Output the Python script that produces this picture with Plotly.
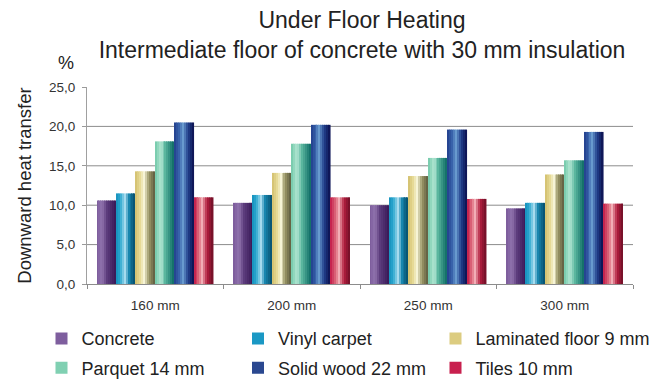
import plotly.graph_objects as go

# Data: downward heat transfer (%) by screed thickness and floor covering
categories = ["160 mm", "200 mm", "250 mm", "300 mm"]
series_names = [
    "Concrete",
    "Vinyl carpet",
    "Laminated floor 9 mm",
    "Parquet 14 mm",
    "Solid wood 22 mm",
    "Tiles 10 mm",
]
concrete = [10.6, 10.3, 10.0, 9.6]
vinyl_carpet = [11.5, 11.3, 11.0, 10.3]
laminated_floor = [14.3, 14.1, 13.7, 13.9]
parquet = [18.1, 17.8, 16.0, 15.7]
solid_wood = [20.5, 20.2, 19.6, 19.3]
tiles = [11.0, 11.0, 10.8, 10.2]
series_values = [concrete, vinyl_carpet, laminated_floor, parquet, solid_wood, tiles]
grid_values = [5, 10, 15, 20]

# Cylinder-like shading for each series: (position across bar, colour)
shading = [
    [(0.0, "#7a5a9a"), (0.3, "#9073ad"), (0.55, "#5c3c7c"), (1.0, "#381856")],
    [(0.0, "#1690bc"), (0.2, "#28a6ce"), (0.45, "#a6dbee"), (0.65, "#1886ae"), (1.0, "#074e6c")],
    [(0.0, "#d2be6c"), (0.25, "#e6da96"), (0.45, "#f6f4d6"), (0.7, "#9a9666"), (1.0, "#5c5a3e")],
    [(0.0, "#70c8a8"), (0.3, "#b2e6d2"), (0.55, "#5ab69e"), (1.0, "#0c6a64")],
    [(0.0, "#223e8c"), (0.25, "#3862aa"), (0.45, "#689ace"), (0.7, "#22408c"), (1.0, "#0b0f4e")],
    [(0.0, "#c21646"), (0.3, "#de6e7e"), (0.45, "#f2aeb6"), (0.7, "#b21e3e"), (1.0, "#6e0e26")],
]
legend_colors = ["#7e5e9e", "#1a98c4", "#dccc80", "#80d0b2", "#2a4890", "#c8204e"]
# legend column for each series (three columns, two rows)
legend_ids = ["legend", "legend2", "legend3", "legend", "legend2", "legend3"]


def hex_to_rgb(h):
    h = h.lstrip("#")
    return tuple(int(h[i:i + 2], 16) for i in (0, 2, 4))


def shade_at(stops, t):
    for (t0, c0), (t1, c1) in zip(stops[:-1], stops[1:]):
        if t <= t1:
            f = 0 if t1 == t0 else (t - t0) / (t1 - t0)
            a, b = hex_to_rgb(c0), hex_to_rgb(c1)
            r, g, bl = (round(a[k] + (b[k] - a[k]) * f) for k in range(3))
            return f"rgb({r},{g},{bl})"
    return stops[-1][1]


group_width = 0.853
bar_width = group_width / len(series_names)
strips = 10
strip_width = bar_width / strips

fig = go.Figure()
for i, (name, values, stops) in enumerate(zip(series_names, series_values, shading)):
    left = -group_width / 2 + i * bar_width
    for j in range(strips):
        t = (j + 0.5) / strips
        fig.add_trace(go.Bar(
            x=categories,
            y=values,
            name=name,
            legendgroup=name,
            showlegend=False,
            width=strip_width,
            offset=left + j * strip_width,
            marker=dict(color=shade_at(stops, t), line=dict(width=0)),
            hovertemplate=name + "<br>%{x}: %{y:.1f} %<extra></extra>",
        ))
    # legend entry for the series
    fig.add_trace(go.Bar(
        x=[None], y=[None], name=name, legendgroup=name, showlegend=True,
        legend=legend_ids[i],
        marker=dict(color=legend_colors[i], line=dict(width=0)),
    ))

font_family = "Liberation Sans, Arial, Helvetica, sans-serif"
text_color = "#222222"
grid_color = "#8c8c8c"

legend_style = dict(
    orientation="v",
    xanchor="left",
    y=-0.184,
    yanchor="top",
    font=dict(size=18, color=text_color),
    tracegroupgap=3,
    itemwidth=30,
    bgcolor="rgba(0,0,0,0)",
)

fig.update_layout(
    width=669,
    height=380,
    margin=dict(l=87, r=36, t=87, b=96, autoexpand=False),
    paper_bgcolor="white",
    plot_bgcolor="white",
    barmode="overlay",
    separators=",.",
    font=dict(family=font_family, color=text_color),
    title=dict(
        text="Under Floor Heating<br>Intermediate floor of concrete with 30 mm insulation",
        x=362 / 669,
        xanchor="center",
        xref="container",
        y=0.927,
        yref="container",
        yanchor="top",
        font=dict(size=23, color=text_color, family=font_family),
    ),
    xaxis=dict(
        type="category",
        tickson="boundaries",
        ticks="outside",
        ticklen=4,
        tickcolor=grid_color,
        showline=True,
        linecolor=grid_color,
        linewidth=1,
        showgrid=False,
        ticklabelstandoff=9,
        tickfont=dict(size=13.5, color="#333333"),
    ),
    yaxis=dict(
        range=[0, 25],
        dtick=5,
        tickformat=".1f",
        ticks="outside",
        ticklen=4,
        tickcolor="#9a9a9a",
        showline=True,
        linecolor="#a0a0a0",
        linewidth=1,
        showgrid=False,
        zeroline=False,
        ticklabelstandoff=4,
        tickfont=dict(size=13.5, color="#333333"),
        title=dict(text="Downward heat transfer", font=dict(size=18.5, color=text_color), standoff=12),
    ),
    legend=dict(x=(41.5 - 87) / 546, **legend_style),
    legend2=dict(x=(238 - 87) / 546, **legend_style),
    legend3=dict(x=(435.5 - 87) / 546, **legend_style),
    shapes=[
        dict(
            type="line", xref="paper", yref="y", layer="below",
            x0=0, x1=1, y0=v, y1=v,
            line=dict(color=grid_color, width=1),
        )
        for v in grid_values
    ],
    annotations=[
        dict(
            text="%",
            xref="paper", yref="paper",
            x=(66 - 87) / 546, y=(284 - 63) / 197,
            xanchor="center", yanchor="middle",
            showarrow=False,
            font=dict(size=18, color=text_color),
        )
    ],
)

fig.write_html("out.html")
